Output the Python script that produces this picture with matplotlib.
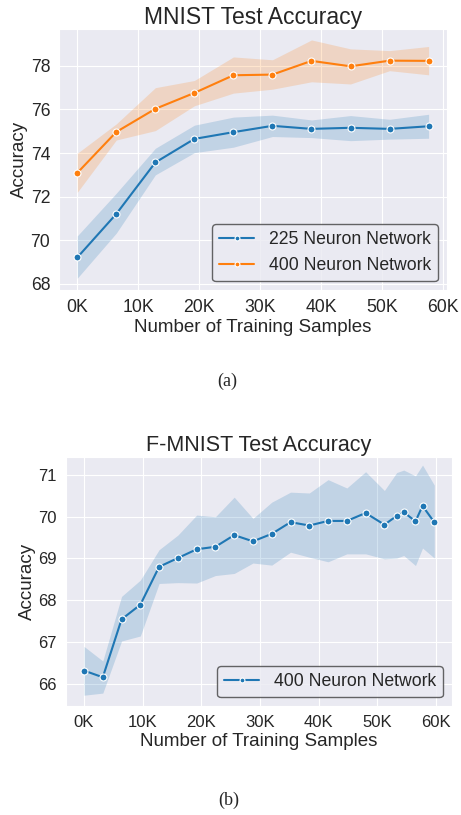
import numpy as np
import matplotlib
matplotlib.use('Agg')
from matplotlib import pyplot as plt
from matplotlib.ticker import FuncFormatter
import seaborn as sns

sns.set_style('darkgrid')
plt.rcParams['font.family'] = ['Liberation Sans', 'DejaVu Sans']

# MNIST: two network sizes
mnist_samples = [0, 6400, 12800, 19200, 25600, 32000, 38400, 44800, 51200, 57600]
mnist_225 = [69.21, 71.21, 73.57, 74.65, 74.96, 75.25, 75.11, 75.16, 75.11, 75.23]
mnist_225_lo = [68.26, 70.33, 73.00, 74.02, 74.27, 74.76, 74.71, 74.57, 74.64, 74.68]
mnist_225_hi = [70.20, 72.16, 74.22, 75.28, 75.65, 75.74, 75.52, 75.72, 75.55, 75.78]
mnist_400 = [73.09, 74.97, 76.03, 76.76, 77.57, 77.60, 78.23, 77.98, 78.24, 78.23]
mnist_400_lo = [72.20, 74.60, 75.03, 76.17, 76.75, 76.93, 77.27, 77.17, 77.78, 77.59]
mnist_400_hi = [73.99, 75.34, 77.00, 77.33, 78.41, 78.28, 79.19, 78.78, 78.70, 78.89]

# F-MNIST: one network
fmnist_samples = [0, 3200, 6400, 9600, 12800, 16000, 19200, 22400, 25600, 28800,
                  32000, 35200, 38400, 41600, 44800, 48000, 51200, 53300, 54500,
                  56500, 57700, 59700]
fmnist_400 = [66.31, 66.15, 67.54, 67.89, 68.80, 69.01, 69.22, 69.28, 69.56, 69.41,
              69.59, 69.87, 69.79, 69.90, 69.90, 70.09, 69.81, 70.02, 70.11, 69.89,
              70.26, 69.87]
fmnist_400_lo = [65.72, 65.77, 67.02, 67.14, 68.40, 68.42, 68.41, 68.59, 68.64, 68.89,
                 68.84, 69.15, 69.03, 68.92, 69.11, 69.11, 68.99, 69.01, 69.07, 68.83,
                 69.25, 69.01]
fmnist_400_hi = [66.89, 66.54, 68.09, 68.48, 69.21, 69.56, 70.04, 70.00, 70.47, 69.96,
                 70.35, 70.59, 70.57, 70.89, 70.69, 71.08, 70.63, 71.06, 71.12, 70.98,
                 71.24, 70.76]

BLUE = '#1f77b4'
ORANGE = '#ff7f0e'
kfmt = FuncFormatter(lambda v, pos: '{}K'.format(int(round(v / 1000))))


def draw(ax, x, y, lo, hi, color, label):
    ax.fill_between(x, lo, hi, color=color, alpha=0.2, linewidth=0)
    ax.plot(x, y, color=color, marker='o', markersize=5, markeredgecolor='white',
            markeredgewidth=0.8, linewidth=1.5, label=label)


def finish(ax, title, tsize, ticksize):
    ax.set_title(title, fontsize=tsize, pad=4)
    ax.set_xlabel('Number of Training Samples', fontsize=13.5, labelpad=2)
    ax.set_ylabel('Accuracy', fontsize=13.5, labelpad=2)
    ax.set_xticks(np.arange(0, 60001, 10000))
    ax.xaxis.set_major_formatter(kfmt)
    ax.tick_params(labelsize=ticksize, pad=3)
    leg = ax.legend(loc='lower right', fontsize=12.7, frameon=True, fancybox=True,
                    markerscale=0.7)
    leg.get_frame().set_edgecolor('0.25')
    leg.get_frame().set_facecolor('#EAEAF2')
    leg.get_frame().set_linewidth(1.0)


fig = plt.figure(figsize=(4.61, 8.15), dpi=100)

ax1 = fig.add_axes([0.1286, 0.6442, 0.8403, 0.3199])
draw(ax1, mnist_samples, mnist_225, mnist_225_lo, mnist_225_hi, BLUE, '225 Neuron Network')
draw(ax1, mnist_samples, mnist_400, mnist_400_lo, mnist_400_hi, ORANGE, '400 Neuron Network')
ax1.set_xlim(-2950, 60560)
ax1.set_ylim(67.72, 79.68)
ax1.set_yticks(np.arange(68, 79, 2))
finish(ax1, 'MNIST Test Accuracy', 16.5, 12.7)

ax2 = fig.add_axes([0.1432, 0.1337, 0.8366, 0.3059])
draw(ax2, fmnist_samples, fmnist_400, fmnist_400_lo, fmnist_400_hi, BLUE, '400 Neuron Network')
ax2.set_xlim(-3070, 62670)
ax2.set_ylim(65.46, 71.44)
ax2.set_yticks(np.arange(66, 72, 1))
finish(ax2, 'F-MNIST Test Accuracy', 15.5, 12)

fig.text(0.4924, 1 - 381.5 / 815, '(a)', ha='center', va='center', fontsize=13,
         family='Liberation Serif')
fig.text(0.4967, 1 - 800 / 815, '(b)', ha='center', va='center', fontsize=13,
         family='Liberation Serif')

fig.savefig('out.png', dpi=100)
